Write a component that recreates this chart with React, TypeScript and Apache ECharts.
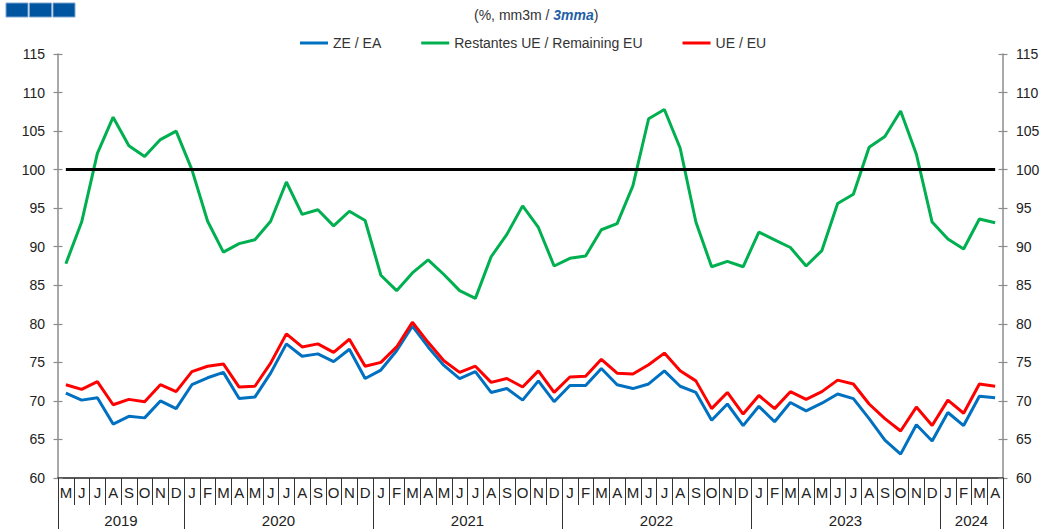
import React, { useEffect, useRef } from "react";
import * as echarts from "echarts";

const monthLabels = [
  "M", "J", "J", "A", "S", "O", "N", "D",
  "J", "F", "M", "A", "M", "J", "J", "A", "S", "O", "N", "D",
  "J", "F", "M", "A", "M", "J", "J", "A", "S", "O", "N", "D",
  "J", "F", "M", "A", "M", "J", "J", "A", "S", "O", "N", "D",
  "J", "F", "M", "A", "M", "J", "J", "A", "S", "O", "N", "D",
  "J", "F", "M", "A",
];
const years = ["2019", "2020", "2021", "2022", "2023", "2024"];
const monthsPerYear = [8, 12, 12, 12, 12, 4];

const yTicks = { min: 60, max: 115, interval: 5 };
const referenceLevel = 100;

const zeEa = [
  71.0, 70.1, 70.4, 67.0, 68.0, 67.8, 70.0, 69.0,
  72.1, 73.0, 73.7, 70.3, 70.5, 73.6, 77.4, 75.8, 76.1, 75.1, 76.7, 72.9,
  74.0, 76.5, 79.7, 77.0, 74.6, 72.9, 73.8, 71.1, 71.6, 70.1, 72.6, 69.9,
  72.0, 72.0, 74.2, 72.1, 71.6, 72.2, 73.9, 71.9, 71.1, 67.5, 69.6, 66.8,
  69.3, 67.3, 69.8, 68.7, 69.7, 70.9, 70.3, 67.7, 64.9, 63.1, 66.9, 64.8,
  68.5, 66.8, 70.6, 70.4,
];
const remainingEu = [
  87.8, 93.2, 102.1, 106.8, 103.1, 101.7, 103.9, 105.0,
  100.0, 93.3, 89.3, 90.4, 90.9, 93.3, 98.4, 94.2, 94.8, 92.7, 94.6, 93.4,
  86.3, 84.3, 86.6, 88.3, 86.4, 84.3, 83.3, 88.7, 91.6, 95.3, 92.5, 87.5,
  88.5, 88.8, 92.2, 93.0, 97.9, 106.6, 107.8, 102.8, 93.2, 87.4, 88.1, 87.4,
  91.9, 90.9, 89.9, 87.5, 89.5, 95.6, 96.8, 102.9, 104.3, 107.6, 102.0, 93.2,
  91.0, 89.7, 93.6, 93.1,
];
const ueEu = [
  72.1, 71.5, 72.5, 69.5, 70.2, 69.9, 72.1, 71.2,
  73.8, 74.5, 74.8, 71.8, 71.9, 74.9, 78.7, 77.0, 77.4, 76.3, 78.0, 74.5,
  75.0, 77.0, 80.2, 77.6, 75.2, 73.7, 74.5, 72.4, 72.9, 71.8, 73.9, 71.1,
  73.1, 73.2, 75.4, 73.6, 73.5, 74.7, 76.2, 73.9, 72.6, 69.0, 71.1, 68.3,
  70.7, 69.0, 71.2, 70.2, 71.2, 72.7, 72.2, 69.6, 67.7, 66.1, 69.2, 66.8,
  70.1, 68.4, 72.2, 71.9,
];

const seriesNames = ["ZE / EA", "Restantes UE / Remaining EU", "UE / EU"];
const seriesColors = ["#0070C0", "#00B050", "#FF0000"];

const FONT = "'Liberation Sans', Arial, sans-serif";

export default function App() {
  const ref = useRef<HTMLDivElement>(null);

  useEffect(() => {
    if (!ref.current) return;
    const chart = echarts.init(ref.current, undefined, { renderer: "svg" });

    // Year row: half-month slots on a point axis (boundaryGap false)
    const slots = monthLabels.length * 2 + 1;
    const yearSlots: string[] = new Array(slots).fill("");
    const boundarySet = new Set<number>();
    const labelSet = new Set<number>();
    let cum = 0;
    boundarySet.add(0);
    years.forEach((y, i) => {
      const mid = cum * 2 + monthsPerYear[i];
      yearSlots[mid] = y;
      labelSet.add(mid);
      cum += monthsPerYear[i];
      boundarySet.add(cum * 2);
    });

    const yBase = {
      type: "value",
      min: yTicks.min,
      max: yTicks.max,
      interval: yTicks.interval,
      splitLine: { show: false },
    };

    const seriesData = [zeEa, remainingEu, ueEu];

    chart.setOption({
      animation: false,
      textStyle: { fontFamily: FONT },
      title: {
        text: "{a|(%, mm3m / }{b|3mma}{a|)}",
        left: 469,
        top: 3,
        textStyle: {
          fontWeight: "normal",
          rich: {
            a: { fontSize: 14, color: "#333", fontWeight: "normal", fontFamily: FONT },
            b: {
              fontSize: 14,
              color: "#1F5FA8",
              fontStyle: "italic",
              fontWeight: "bold",
              fontFamily: FONT,
            },
          },
        },
      },
      graphic: [
        { type: "rect", shape: { x: 6, y: 3, width: 22, height: 14 }, style: { fill: "#0055A0", stroke: "#7fa6d1", lineWidth: 1 } },
        { type: "rect", shape: { x: 29.5, y: 3, width: 22, height: 14 }, style: { fill: "#0055A0", stroke: "#7fa6d1", lineWidth: 1 } },
        { type: "rect", shape: { x: 53, y: 3, width: 22, height: 14 }, style: { fill: "#0055A0", stroke: "#7fa6d1", lineWidth: 1 } },
      ],
      legend: {
        left: 295,
        top: 30,
        icon: "rect",
        itemWidth: 28,
        itemHeight: 3,
        itemGap: 40,
        textStyle: { fontSize: 14, color: "#333", fontFamily: FONT, lineHeight: 16 },
        data: seriesNames,
      },
      grid: { left: 58, right: 44, top: 54, bottom: 51, containLabel: false },
      xAxis: [
        {
          type: "category",
          data: monthLabels,
          boundaryGap: true,
          position: "bottom",
          axisLine: { lineStyle: { color: "#222", width: 1.5 } },
          axisTick: { show: true, interval: 0, length: 27, lineStyle: { color: "#333", width: 1 } },
          axisLabel: { interval: 0, margin: 7, fontSize: 15, color: "#222", fontFamily: FONT },
        },
        {
          type: "category",
          data: yearSlots,
          boundaryGap: false,
          position: "bottom",
          axisLine: { show: false },
          axisTick: {
            show: true,
            interval: (i: number) => boundarySet.has(i),
            length: 55,
            lineStyle: { color: "#333", width: 1 },
          },
          axisLabel: {
            interval: (i: number) => labelSet.has(i),
            margin: 35,
            fontSize: 15,
            color: "#222",
            fontFamily: FONT,
          },
        },
      ],
      yAxis: [
        {
          ...yBase,
          position: "left",
          axisLine: { show: true, lineStyle: { color: "#8c8c8c", width: 1.5 } },
          axisTick: { show: true, length: 4.5, lineStyle: { color: "#8c8c8c", width: 1.2 } },
          axisLabel: { margin: 13, fontSize: 14, color: "#222", fontFamily: FONT },
        },
        {
          ...yBase,
          position: "right",
          axisLine: { show: true, lineStyle: { color: "#8c8c8c", width: 1.5 } },
          axisTick: { show: true, length: 4.5, lineStyle: { color: "#8c8c8c", width: 1.2 } },
          axisLabel: { margin: 13, fontSize: 14, color: "#222", fontFamily: FONT },
        },
        {
          ...yBase,
          position: "left",
          axisLine: { show: false },
          axisTick: { show: true, inside: true, length: 4.5, lineStyle: { color: "#8c8c8c", width: 1.2 } },
          axisLabel: { show: false },
        },
        {
          ...yBase,
          position: "right",
          axisLine: { show: false },
          axisTick: { show: true, inside: true, length: 4.5, lineStyle: { color: "#8c8c8c", width: 1.2 } },
          axisLabel: { show: false },
        },
      ],
      series: seriesNames.map((name, i) => ({
        name,
        type: "line",
        xAxisIndex: 0,
        yAxisIndex: 0,
        data: seriesData[i],
        symbol: "none",
        color: seriesColors[i],
        lineStyle: { width: 3, color: seriesColors[i] },
        z: 3 + i,
        ...(i === 0
          ? {
              markLine: {
                silent: true,
                symbol: "none",
                label: { show: false },
                lineStyle: { color: "#000", width: 3, type: "solid" },
                data: [
                  [
                    { coord: [0, referenceLevel] },
                    { coord: [monthLabels.length - 1, referenceLevel] },
                  ],
                ],
              },
            }
          : {}),
      })),
    });

    return () => chart.dispose();
  }, []);

  return (
    <div
      ref={ref}
      style={{ position: "fixed", left: 0, top: 0, width: 1047, height: 529, background: "#fff" }}
    />
  );
}
